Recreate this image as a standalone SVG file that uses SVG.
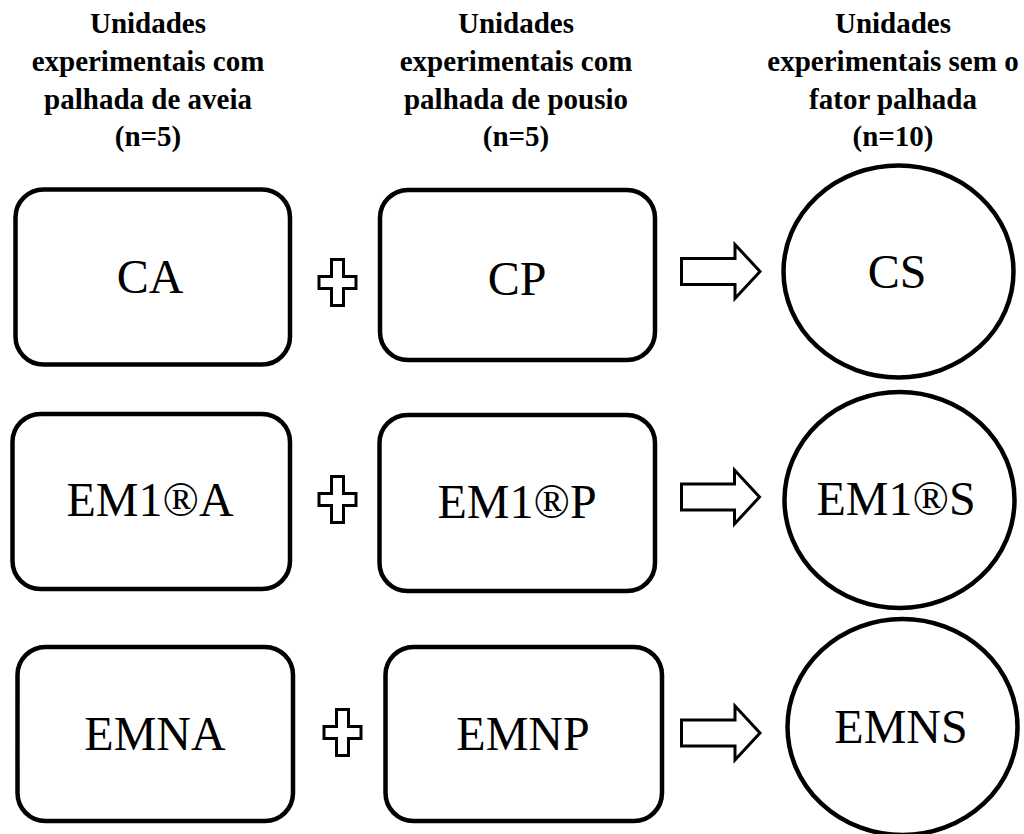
<svg xmlns="http://www.w3.org/2000/svg" width="1024" height="834" viewBox="0 0 1024 834">
<style>
.hdr{font-family:"Liberation Serif","Times New Roman",serif;font-weight:bold;font-size:29px;fill:#000;text-anchor:middle}
.lbl{font-family:"Liberation Serif","Times New Roman",serif;font-size:48px;fill:#000;text-anchor:middle}
.box{fill:#fff;stroke:#000;stroke-width:4.5}
.ell{fill:#fff;stroke:#000;stroke-width:4.5}
.sym{fill:#fff;stroke:#000;stroke-width:3;stroke-linejoin:miter}
</style>
<rect width="1024" height="834" fill="#fff"/>
<g id="headers">
<text class="hdr" x="148" y="33">Unidades</text>
<text class="hdr" x="148" y="71">experimentais com</text>
<text class="hdr" x="148" y="109">palhada de aveia</text>
<text class="hdr" x="148" y="146">(n=5)</text>
<text class="hdr" x="516" y="33">Unidades</text>
<text class="hdr" x="516" y="71">experimentais com</text>
<text class="hdr" x="516" y="109">palhada de pousio</text>
<text class="hdr" x="516" y="146">(n=5)</text>
<text class="hdr" x="893" y="33">Unidades</text>
<text class="hdr" x="893" y="71">experimentais sem o</text>
<text class="hdr" x="893" y="109">fator palhada</text>
<text class="hdr" x="893" y="146">(n=10)</text>
</g>
<g id="node-CA"><rect class="box" x="15.5" y="189.5" width="274.5" height="175" rx="28"/><text class="lbl" x="150" y="293">CA</text></g>
<g id="node-CP"><rect class="box" x="380" y="190" width="275" height="170" rx="28"/><text class="lbl" x="517" y="295">CP</text></g>
<g id="node-CS"><ellipse class="ell" cx="898.5" cy="271.5" rx="115" ry="106"/><text class="lbl" x="897" y="288">CS</text></g>
<g id="node-EM1A"><rect class="box" x="12.5" y="414" width="277.5" height="175" rx="28"/><text class="lbl" x="150" y="516">EM1®A</text></g>
<g id="node-EM1P"><rect class="box" x="379.5" y="415" width="275.5" height="176" rx="28"/><text class="lbl" x="517" y="518">EM1®P</text></g>
<g id="node-EM1S"><ellipse class="ell" cx="899.5" cy="500" rx="115" ry="108"/><text class="lbl" x="896" y="515">EM1®S</text></g>
<g id="node-EMNA"><rect class="box" x="17.5" y="647" width="275.5" height="174" rx="28"/><text class="lbl" x="155" y="750">EMNA</text></g>
<g id="node-EMNP"><rect class="box" x="385.5" y="647" width="276.5" height="174" rx="28"/><text class="lbl" x="523" y="750">EMNP</text></g>
<g id="node-EMNS"><ellipse class="ell" cx="902.5" cy="727" rx="115" ry="108"/><text class="lbl" x="901" y="743">EMNS</text></g>
<g id="connectors">
<path class="sym" d="M331.5,259.5h12v17h12.5v12h-12.5v17h-12v-17h-12.5v-12h12.5z"/>
<path class="sym" d="M331.5,476.5h12v17h12.5v12h-12.5v17h-12v-17h-12.5v-12h12.5z"/>
<path class="sym" d="M336.5,709.5h12v17h12.5v12h-12.5v17h-12v-17h-12.5v-12h12.5z"/>
<path class="sym" d="M681.5,258.5h53.5v-14l25,27l-25,27v-14h-53.5z"/>
<path class="sym" d="M681.5,484h53v-14l25,27l-25,27v-14h-53z"/>
<path class="sym" d="M681.5,720h53.5v-14l25,27l-25,27v-14h-53.5z"/>
</g>
</svg>
